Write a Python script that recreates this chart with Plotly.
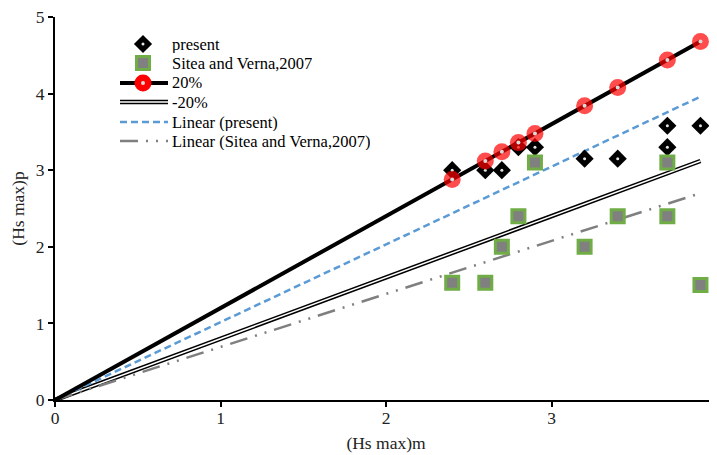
import plotly.graph_objects as go

# ---------------- data ----------------
present_x = [2.4, 2.6, 2.7, 2.8, 2.9, 3.2, 3.4, 3.7, 3.7, 3.9]
present_y = [3.0, 3.0, 3.0, 3.3, 3.3, 3.15, 3.15, 3.58, 3.3, 3.58]
sitea_x = [2.4, 2.6, 2.7, 2.8, 2.9, 3.2, 3.4, 3.7, 3.7, 3.9]
sitea_y = [1.53, 1.53, 2.0, 2.4, 3.1, 2.0, 2.4, 3.1, 2.4, 1.5]
plus20_x = [0, 2.4, 2.6, 2.7, 2.8, 2.9, 3.2, 3.4, 3.7, 3.9]
plus20_y = [0, 2.88, 3.12, 3.24, 3.36, 3.48, 3.84, 4.08, 4.44, 4.68]
minus20_x = [0, 2.4, 2.6, 2.7, 2.8, 2.9, 3.2, 3.4, 3.7, 3.9]
minus20_y = [0, 1.92, 2.08, 2.16, 2.24, 2.32, 2.56, 2.72, 2.96, 3.12]
lin_present_x = [0, 3.9]
lin_present_y = [0, 3.96]
lin_sitea_x = [0, 3.9]
lin_sitea_y = [0, 2.70]

x_ticks = [0, 1, 2, 3, 4]
y_ticks = [0, 1, 2, 3, 4, 5]

legend_names = ["present", "Sitea and Verna,2007", "20%", "-20%",
                "Linear (present)", "Linear (Sitea and Verna,2007)"]

# ---------------- styles / layout ----------------
FONT = "Liberation Serif, Times New Roman, serif"
FS = 17.5
FS_LEG = 16.5
W, H = 709, 447
ML, MT, MR, MB = 47, 9, 0, 55
PW, PH = W - ML - MR, H - MT - MB

BLUE = "#5B9BD5"
GRAY = "#7F7F7F"
GREEN = "#70AD47"
RED = "#FF0000"
DASH_PRESENT = "7px,4px"
DASH_SITEA = "18px,8px,2px,8px,2px,8px"


def px_to_paper_x(px):
    return (px - ML) / PW


def px_to_paper_y(py):
    return (MT + PH - py) / PH


fig = go.Figure()

# -20% (double line)
fig.add_trace(go.Scatter(x=minus20_x, y=minus20_y, mode="lines", name=legend_names[3],
                         line=dict(color="black", width=4.5)))
fig.add_trace(go.Scatter(x=minus20_x, y=minus20_y, mode="lines", hoverinfo="skip",
                         line=dict(color="white", width=1.5)))

# linear trendlines
fig.add_trace(go.Scatter(x=lin_present_x, y=lin_present_y, mode="lines", name=legend_names[4],
                         line=dict(color=BLUE, width=2.5, dash=DASH_PRESENT)))
fig.add_trace(go.Scatter(x=lin_sitea_x, y=lin_sitea_y, mode="lines", name=legend_names[5],
                         line=dict(color=GRAY, width=2.5, dash=DASH_SITEA)))

# present
fig.add_trace(go.Scatter(x=present_x, y=present_y, mode="markers", name=legend_names[0],
                         marker=dict(symbol="diamond", color="black", size=14, line=dict(width=0))))
fig.add_trace(go.Scatter(x=present_x, y=present_y, mode="markers", hoverinfo="skip",
                         marker=dict(symbol="circle", color="#e6e6e6", size=3)))

# Sitea and Verna
fig.add_trace(go.Scatter(x=sitea_x, y=sitea_y, mode="markers", name=legend_names[1],
                         marker=dict(symbol="square", color="#808080", size=13,
                                     line=dict(color=GREEN, width=3))))

# +20%
fig.add_trace(go.Scatter(x=plus20_x, y=plus20_y, mode="lines+markers", name=legend_names[2],
                         line=dict(color="black", width=4),
                         marker=dict(symbol="circle", color=RED,
                                     size=[0] + [17] * (len(plus20_x) - 1), line=dict(width=0))))
fig.add_trace(go.Scatter(x=plus20_x[1:], y=plus20_y[1:], mode="markers", hoverinfo="skip",
                         marker=dict(symbol="circle", color="#d9d9d9", size=4)))

# ---------------- manual legend (layout keys on an overlay axis in paper units) ----------------
row_py = [36, 55, 75, 94, 114, 133]   # pixel rows (figure coords)
key_x0, key_x1, key_xc, text_x = 112, 160, 135, 163

ys = [px_to_paper_y(p) for p in row_py]
kx0, kx1, kxc = px_to_paper_x(key_x0), px_to_paper_x(key_x1), px_to_paper_x(key_xc)


def key_line(y, **line):
    fig.add_trace(go.Scatter(x=[kx0, kx1], y=[y, y], mode="lines", xaxis="x2", yaxis="y2",
                             hoverinfo="skip", line=line))


def key_marker(y, **marker):
    fig.add_trace(go.Scatter(x=[kxc], y=[y], mode="markers", xaxis="x2", yaxis="y2",
                             hoverinfo="skip", marker=marker, cliponaxis=False))


key_marker(ys[0], symbol="diamond", color="black", size=14, line=dict(width=0))
key_marker(ys[0], symbol="circle", color="#e6e6e6", size=3)
key_marker(ys[1], symbol="square", color="#808080", size=13, line=dict(color=GREEN, width=3))
key_line(ys[2], color="black", width=4)
key_marker(ys[2], symbol="circle", color=RED, size=17, line=dict(width=0))
key_marker(ys[2], symbol="circle", color="#d9d9d9", size=4)
key_line(ys[3], color="black", width=4.5)
key_line(ys[3], color="white", width=1.5)
key_line(ys[4], color=BLUE, width=2.5, dash=DASH_PRESENT)
key_line(ys[5], color=GRAY, width=2.5, dash=DASH_SITEA)

annotations = []
for name, y in zip(legend_names, ys):
    annotations.append(dict(x=px_to_paper_x(text_x), y=y, xref="paper", yref="paper",
                            text=name, showarrow=False, xanchor="left", yanchor="middle",
                            height=17, valign="middle", borderpad=0,
                            font=dict(family=FONT, size=FS_LEG, color="black")))

fig.update_layout(
    width=W, height=H,
    margin=dict(l=ML, r=MR, t=MT, b=MB, pad=0),
    paper_bgcolor="white", plot_bgcolor="white",
    font=dict(family=FONT, size=FS, color="#222"),
    showlegend=False,
    annotations=annotations,
    xaxis=dict(range=[0, 4], tickvals=x_ticks, showgrid=False, zeroline=False,
               showline=True, linecolor="black", linewidth=2, ticks="outside",
               ticklen=5, tickwidth=2, tickcolor="black", ticklabeloverflow="allow",
               ticklabelstandoff=-4, automargin=False,
               title=dict(text="(Hs max)m", font=dict(family=FONT, size=FS), standoff=10)),
    yaxis=dict(range=[0, 5], tickvals=y_ticks, showgrid=False, zeroline=False,
               showline=True, linecolor="black", linewidth=2, ticks="outside",
               ticklen=5, tickwidth=2, tickcolor="black", ticklabeloverflow="allow",
               automargin=False,
               title=dict(text="(Hs max)p", font=dict(family=FONT, size=FS), standoff=10)),
    xaxis2=dict(range=[0, 1], overlaying="x", visible=False, fixedrange=True),
    yaxis2=dict(range=[0, 1], overlaying="y", visible=False, fixedrange=True),
)

fig.write_html("out.html")
